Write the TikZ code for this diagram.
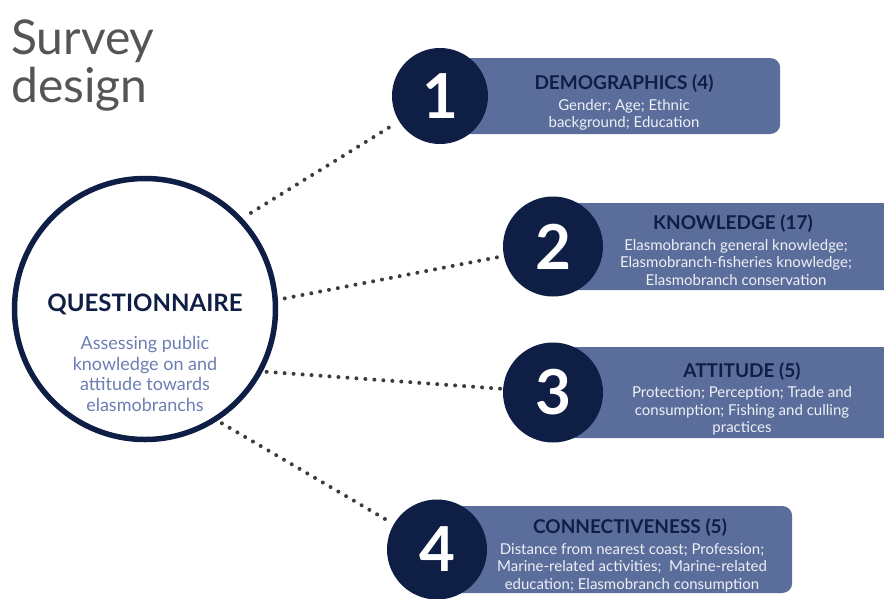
\documentclass[tikz,border=0pt]{standalone}
\usepackage{fontspec}
\setmainfont{Lato}

\definecolor{navy}{HTML}{0E1E45}
\definecolor{slate}{HTML}{5B6E9B}
\definecolor{paleblue}{HTML}{6C7DB2}
\definecolor{boxtext}{HTML}{EEF0F6}
\definecolor{titlegray}{HTML}{555555}
\definecolor{dotgray}{HTML}{3C3C3C}

\tikzset{
  numdisc/.style={circle, fill=navy, inner sep=0pt, minimum size=100pt,
    text=white, font=\fontsize{62}{62}\selectfont\bfseries},
  stagebox/.style={fill=slate, rounded corners=10pt, anchor=west, inner sep=0pt},
  stagehead/.style={text=navy, inner sep=0pt, font=\fontsize{19}{19}\selectfont\bfseries},
  stagebody/.style={text=boxtext, align=center, inner sep=0pt,
    font=\fontsize{15}{17.5}\selectfont},
  dotline/.style={dotgray, line width=4pt, line cap=round, dash pattern=on 0pt off 9pt},
}

\begin{document}
\begin{tikzpicture}[x=1pt, y=-1pt]
  \useasboundingbox (0,0) rectangle (884,598);
  \clip (0,0) rectangle (884,598);

  % title
  \node[anchor=north west, align=left, inner sep=0pt, text=titlegray,
    font=\fontsize{48}{48}\selectfont] (title) at (11,20) {Survey\\design};

  % questionnaire circle
  \node[circle, draw=navy, line width=5.5pt, inner sep=0pt, minimum size=261pt]
    (quest) at (145,309) {};
  \node[text=navy, inner sep=0pt, font=\fontsize{24}{24}\selectfont\bfseries]
    (questhead) at (145,304) {QUESTIONNAIRE};
  \node[text=paleblue, align=center, inner sep=0pt, font=\fontsize{18}{20.5}\selectfont]
    (questbody) at (145,374) {Assessing public\\knowledge on and\\attitude towards\\elasmobranchs};

  % boxes
  \node[stagebox, minimum width=340pt, minimum height=76pt] (box1) at (440,96) {};
  \node[stagebox, minimum width=360pt, minimum height=87pt] (box2) at (553,246.5) {};
  \node[stagebox, minimum width=360pt, minimum height=91pt] (box3) at (553,392.5) {};
  \node[stagebox, minimum width=355pt, minimum height=87pt] (box4) at (437,549.5) {};

  % numbers
  \node[numdisc, minimum size=96pt] (num1) at (440,96) {1};
  \node[numdisc] (num2) at (553,246.5) {2};
  \node[numdisc] (num3) at (553,392.5) {3};
  \node[numdisc] (num4) at (437,549.5) {4};

  % box texts
  \node[stagehead] (head1) at (624,84) {DEMOGRAPHICS (4)};
  \node[stagebody] (body1) at (624,115) {Gender; Age; Ethnic\\background; Education};
  \node[stagehead] (head2) at (733,224) {KNOWLEDGE (17)};
  \node[stagebody] (body2) at (736,262.5) {Elasmobranch general knowledge;\\Elasmobranch-fisheries knowledge;\\Elasmobranch conservation};
  \node[stagehead] (head3) at (742,372) {ATTITUDE (5)};
  \node[stagebody] (body3) at (742,411) {Protection; Perception; Trade and\\consumption; Fishing and culling\\practices};
  \node[stagehead] (head4) at (630,528) {CONNECTIVENESS (5)};
  \node[stagebody] (body4) at (632,567.5) {Distance from nearest coast; Profession;\\Marine-related activities;~~Marine-related\\education; Elasmobranch consumption};

  % connectors
  \draw[dotline, shorten <=10pt, shorten >=8pt] (quest.43) -- (num1);
  \draw[dotline, shorten <=7pt, shorten >=3pt] (quest.4) -- (num2);
  \draw[dotline, shorten <=4pt, shorten >=1pt] (quest.-28) -- (num3);
  \draw[dotline, shorten <=5pt, shorten >=3pt] (quest.-57) -- (num4);
\end{tikzpicture}
\end{document}
